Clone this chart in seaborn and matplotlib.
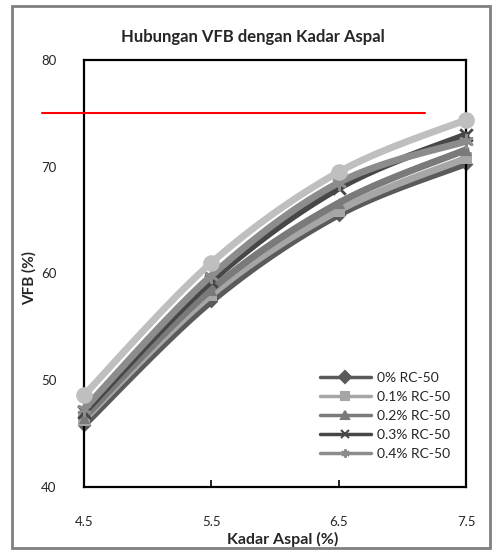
import numpy as np
import pandas as pd
import matplotlib
matplotlib.use("Agg")
import matplotlib.pyplot as plt
from matplotlib.lines import Line2D
from matplotlib.patches import Rectangle
import seaborn as sns

# ---- data ----
kadar_aspal = [4.5, 5.5, 6.5, 7.5]
series_labels = ["0% RC-50", "0.1% RC-50", "0.2% RC-50", "0.3% RC-50", "0.4% RC-50", "_0.5% RC-50"]
vfb_0 = [45.8, 57.4, 65.5, 70.3]
vfb_01 = [46.3, 58.0, 65.9, 70.8]
vfb_02 = [46.5, 58.5, 66.6, 71.6]
vfb_03 = [47.0, 59.3, 68.0, 73.0]
vfb_04 = [47.3, 59.8, 68.5, 72.4]
vfb_05 = [48.6, 61.0, 69.5, 74.4]
batas_vfb = 75
y_ticks = [40, 50, 60, 70, 80]
x_ticks = [4.5, 5.5, 6.5, 7.5]

all_vals = [vfb_0, vfb_01, vfb_02, vfb_03, vfb_04, vfb_05]
colors = ["#5a5a5a", "#a6a6a6", "#7a7a7a", "#474747", "#8c8c8c", "#bfbfbf"]
markers = ["D", "s", "^", "x", (6, 2, 0), "o"]
msizes = [7, 8, 8, 9, 9, 12]

df = pd.DataFrame({
    "x": np.tile(kadar_aspal, len(series_labels)),
    "y": np.concatenate(all_vals),
    "s": np.repeat(series_labels, len(kadar_aspal)),
})

sns.set_theme(style="white")
plt.rcParams["font.family"] = ["Lato", "DejaVu Sans"]

fig = plt.figure(figsize=(4.94, 5.5), dpi=100)
ax = fig.add_axes([84/494, 1-487/550, (466-84)/494, (487-60)/550])


def smooth(xs, ys, n=30):
    P = np.column_stack([xs, ys]).astype(float)
    ext = np.vstack([P[0], P, P[-1]])
    out = []
    t = np.linspace(0, 1, n)[:, None]
    for i in range(len(P) - 1):
        p0, p3 = ext[i+1], ext[i+2]
        c1 = p0 + (ext[i+2] - ext[i]) / 6
        c2 = p3 - (ext[i+3] - ext[i+1]) / 6
        seg = ((1-t)**3)*p0 + 3*((1-t)**2)*t*c1 + 3*(1-t)*t**2*c2 + t**3*p3
        out.append(seg if i == 0 else seg[1:])
    return np.vstack(out)


for i, lab in enumerate(series_labels):
    sub = df[df["s"] == lab]
    curve = smooth(sub["x"].values, sub["y"].values)
    ax.plot(curve[:, 0], curve[:, 1], color=colors[i], lw=5,
            solid_capstyle="round", zorder=2+i, clip_on=False)
    sns.scatterplot(data=sub, x="x", y="y", ax=ax, color=colors[i],
                    marker=markers[i], s=msizes[i]**2,
                    linewidth=2 if markers[i] in ("x", (6, 2, 0)) else 0,
                    edgecolor=colors[i], zorder=2.5+i, clip_on=False, legend=False)

# reference line
ax.plot([4.17, 7.18], [batas_vfb, batas_vfb], color="#ff0000", lw=1.5,
        clip_on=False, zorder=20)

ax.set_xlim(4.5, 7.5)
ax.set_ylim(40, 80)
ax.set_xticks(x_ticks)
ax.set_xticklabels([f"{v:.1f}" for v in x_ticks], fontsize=9.5)
ax.set_yticks(y_ticks)
ax.set_yticklabels([str(v) for v in y_ticks], fontsize=9.5)
ax.tick_params(axis="x", direction="in", length=5, width=1.2, pad=21, color="black", bottom=True)
ax.tick_params(axis="y", length=0, pad=20)
for sp in ax.spines.values():
    sp.set_visible(True)
    sp.set_color("black")
    sp.set_linewidth(1.6)
ax.set_xlabel("")
ax.set_ylabel("VFB (%)", fontsize=11, fontweight="bold", labelpad=2)
ax.yaxis.set_label_coords(-0.125, 0.49)

fig.text(283/494, 1-539/550, "Kadar Aspal (%)", ha="center", va="center",
         fontsize=11.5, fontweight="bold")
fig.text(253/494, 1-37/550, "Hubungan VFB dengan Kadar Aspal", ha="center",
         va="center", fontsize=12, fontweight="bold")

handles = [Line2D([0], [0], color=colors[i], lw=2.5, marker=markers[i],
                  markersize=6, markeredgewidth=1.5,
                  markeredgecolor=colors[i], markerfacecolor=colors[i])
           for i in range(5)]
ax.legend(handles, series_labels[:5], loc="lower right",
          bbox_to_anchor=(0.99, 0.035), frameon=False, fontsize=10,
          handlelength=3.7, handletextpad=0.4, labelspacing=0.5)

fig.patches.append(Rectangle((12/494, 2/550), (490-12)/494, (546-4)/550,
                             transform=fig.transFigure, fill=False,
                             edgecolor="#808080", lw=2))

fig.savefig("out.png", dpi=100)
